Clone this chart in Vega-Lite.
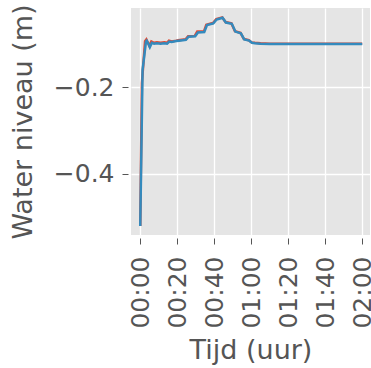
{
  "$schema": "https://vega.github.io/schema/vega-lite/v6.json",
  "width": 239,
  "height": 227,
  "autosize": {"type": "none"},
  "padding": {"left": 131, "top": 8, "right": 1, "bottom": 133},
  "background": "white",
  "config": {
    "view": {"fill": "#E5E5E5", "stroke": null},
    "font": "DejaVu Sans",
    "axis": {
      "domain": false,
      "grid": true,
      "gridColor": "white",
      "gridWidth": 1.3,
      "tickColor": "#555555",
      "tickWidth": 1,
      "tickSize": 6,
      "labelColor": "#555555",
      "titleColor": "#555555",
      "labelFont": "DejaVu Sans",
      "titleFont": "DejaVu Sans",
      "labelFontSize": 25,
      "titleFontSize": 27,
      "titleFontWeight": "normal"
    }
  },
  "data": {
    "values": [
      {"t": 0, "v": -0.521, "s": "a"},
      {"t": 0.9, "v": -0.19, "s": "a"},
      {"t": 2.6, "v": -0.093, "s": "a"},
      {"t": 3.3, "v": -0.089, "s": "a"},
      {"t": 4.9, "v": -0.104, "s": "a"},
      {"t": 6.0, "v": -0.094, "s": "a"},
      {"t": 7.5, "v": -0.097, "s": "a"},
      {"t": 9, "v": -0.096, "s": "a"},
      {"t": 11, "v": -0.097, "s": "a"},
      {"t": 13, "v": -0.096, "s": "a"},
      {"t": 14.5, "v": -0.097, "s": "a"},
      {"t": 15.5, "v": -0.092, "s": "a"},
      {"t": 17, "v": -0.094, "s": "a"},
      {"t": 19.5, "v": -0.092, "s": "a"},
      {"t": 20.5, "v": -0.091, "s": "a"},
      {"t": 24.5, "v": -0.089, "s": "a"},
      {"t": 25.9, "v": -0.082, "s": "a"},
      {"t": 29.5, "v": -0.081, "s": "a"},
      {"t": 30.8, "v": -0.071, "s": "a"},
      {"t": 34.4, "v": -0.071, "s": "a"},
      {"t": 35.7, "v": -0.055, "s": "a"},
      {"t": 39.3, "v": -0.051, "s": "a"},
      {"t": 41.1, "v": -0.042, "s": "a"},
      {"t": 44.3, "v": -0.038, "s": "a"},
      {"t": 46.1, "v": -0.049, "s": "a"},
      {"t": 49.3, "v": -0.052, "s": "a"},
      {"t": 51.2, "v": -0.070, "s": "a"},
      {"t": 54.2, "v": -0.074, "s": "a"},
      {"t": 56.0, "v": -0.088, "s": "a"},
      {"t": 58.7, "v": -0.091, "s": "a"},
      {"t": 60.2, "v": -0.096, "s": "a"},
      {"t": 62, "v": -0.097, "s": "a"},
      {"t": 65, "v": -0.098, "s": "a"},
      {"t": 70, "v": -0.099, "s": "a"},
      {"t": 120, "v": -0.099, "s": "a"},
      {"t": 0, "v": -0.521, "s": "b"},
      {"t": 1.25, "v": -0.160, "s": "b"},
      {"t": 3.1, "v": -0.094, "s": "b"},
      {"t": 3.5, "v": -0.092, "s": "b"},
      {"t": 4.4, "v": -0.099, "s": "b"},
      {"t": 5.2, "v": -0.107, "s": "b"},
      {"t": 6.3, "v": -0.097, "s": "b"},
      {"t": 7.5, "v": -0.099, "s": "b"},
      {"t": 9, "v": -0.098, "s": "b"},
      {"t": 11, "v": -0.099, "s": "b"},
      {"t": 13, "v": -0.098, "s": "b"},
      {"t": 14.5, "v": -0.099, "s": "b"},
      {"t": 15.7, "v": -0.094, "s": "b"},
      {"t": 17, "v": -0.095, "s": "b"},
      {"t": 19.5, "v": -0.093, "s": "b"},
      {"t": 21, "v": -0.092, "s": "b"},
      {"t": 24.7, "v": -0.090, "s": "b"},
      {"t": 26.1, "v": -0.083, "s": "b"},
      {"t": 29.7, "v": -0.082, "s": "b"},
      {"t": 31.2, "v": -0.073, "s": "b"},
      {"t": 34.6, "v": -0.072, "s": "b"},
      {"t": 36.1, "v": -0.056, "s": "b"},
      {"t": 39.5, "v": -0.052, "s": "b"},
      {"t": 41.3, "v": -0.043, "s": "b"},
      {"t": 44.5, "v": -0.039, "s": "b"},
      {"t": 46.3, "v": -0.050, "s": "b"},
      {"t": 49.5, "v": -0.053, "s": "b"},
      {"t": 51.4, "v": -0.071, "s": "b"},
      {"t": 54.4, "v": -0.075, "s": "b"},
      {"t": 56.2, "v": -0.089, "s": "b"},
      {"t": 58.9, "v": -0.092, "s": "b"},
      {"t": 60.4, "v": -0.097, "s": "b"},
      {"t": 62, "v": -0.098, "s": "b"},
      {"t": 65, "v": -0.099, "s": "b"},
      {"t": 70, "v": -0.100, "s": "b"},
      {"t": 120, "v": -0.100, "s": "b"}
    ]
  },
  "mark": {"type": "line", "strokeWidth": 2.5, "clip": true},
  "encoding": {
    "x": {
      "field": "t",
      "type": "quantitative",
      "scale": {"domain": [-5, 124.2], "nice": false, "zero": false},
      "axis": {
        "title": "Tijd (uur)",
        "values": [0, 20, 40, 60, 80, 100, 120],
        "labelAngle": -90,
        "labelPadding": 12,
        "offset": 3,
        "titlePadding": 9,
        "labelExpr": "(floor(datum.value/60) < 10 ? '0' : '') + floor(datum.value/60) + ':' + (datum.value % 60 < 10 ? '0' : '') + (datum.value % 60)"
      }
    },
    "y": {
      "field": "v",
      "type": "quantitative",
      "scale": {"domain": [-0.542, -0.0164], "nice": false, "zero": false},
      "axis": {
        "title": "Water niveau (m)",
        "values": [-0.4, -0.2],
        "labelPadding": 8,
        "offset": 3,
        "titlePadding": 16,
        "labelExpr": "replace(format(datum.value, '.1f'), '-', '−')"
      }
    },
    "color": {
      "field": "s",
      "type": "nominal",
      "scale": {"domain": ["a", "b"], "range": ["#E24A33", "#348ABD"]},
      "legend": null
    },
    "order": {"field": "t"}
  }
}
